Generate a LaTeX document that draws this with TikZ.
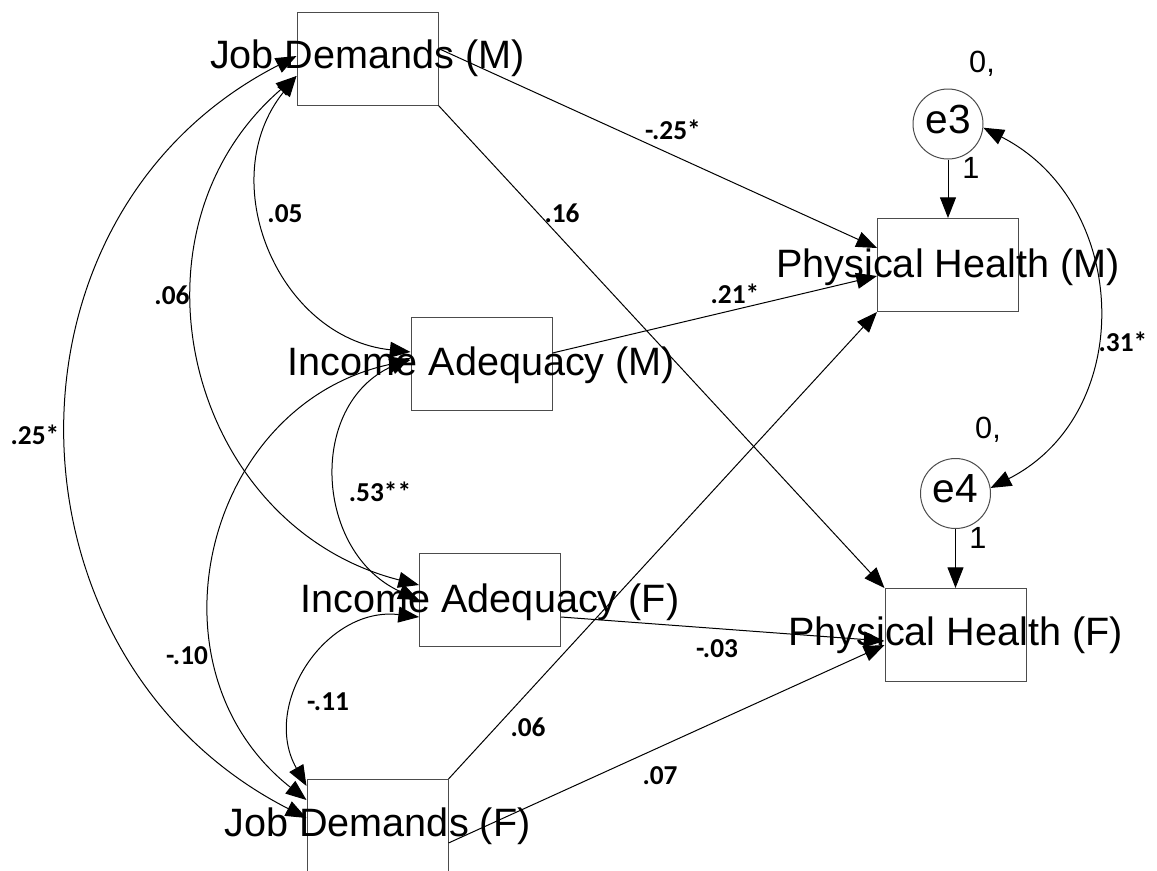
\documentclass[tikz,border=0pt]{standalone}
\usepackage{fontspec}
\setmainfont{Liberation Sans}
\newfontfamily\coeffamily{Carlito}
\usetikzlibrary{arrows.meta,calc}
\newcommand\varfontsz{\fontsize{29.7pt}{34pt}\selectfont}
\newcommand\errfontsz{\fontsize{30.5pt}{34pt}\selectfont}
\newcommand\coefsz{\coeffamily\bfseries\fontsize{20.5pt}{24pt}\selectfont}
\newcommand\minorsz{\fontsize{23pt}{27pt}\selectfont}
\tikzset{
  var/.style={draw=black!70, line width=0.75pt, minimum width=105.75pt,
    minimum height=69.75pt, inner sep=0pt},
  err/.style={circle, draw=black!70, line width=0.75pt, minimum size=52.5pt,
    inner sep=0pt, font=\errfontsz, text height=14pt, text depth=0pt},
  vlabel/.style={font=\varfontsz, anchor=base, inner sep=0pt},
  coef/.style={font=\coefsz, inner sep=0pt},
  minor/.style={font=\minorsz, inner sep=0pt},
  regr/.style={-{Triangle[length=15.5pt,width=12pt]}, line width=0.75pt},
  covar/.style={{Triangle[length=15.5pt,width=12pt]}-{Triangle[length=15.5pt,width=12pt]},
    line width=0.75pt},
}
\begin{document}
\begin{tikzpicture}[x=0.75pt,y=-0.75pt]
\useasboundingbox[fill=white] (0,0) rectangle (1157,871);

% observed variables
\node[var] (JDM) at (367.5,58.5) {};
\node[var] (IAM) at (481.5,364) {};
\node[var] (IAF) at (490,600) {};
\node[var] (JDF) at (377.5,826) {};
\node[var] (PHM) at (948,265) {};
\node[var] (PHF) at (955.5,635) {};

% error terms
\node[err] (e3) at (948,124) {e3};
\node[err] (e4) at (955.5,493.5) {e4};
\node[minor] (e3m) at (982,64) {0,};
\node[minor] (e4m) at (988,430) {0,};

% ports for the covariance arcs
\coordinate (jdm-a) at ($(JDM.west)+(0,-2.5)$);
\coordinate (jdm-b) at ($(JDM.west)+(0,17.5)$);
\coordinate (iam-a) at ($(IAM.west)+(0,-12)$);
\coordinate (iam-b) at ($(IAM.west)+(0,-6)$);
\coordinate (iam-c) at ($(IAM.west)+(0,-4)$);
\coordinate (iaf-a) at ($(IAF.west)+(0,-15)$);
\coordinate (iaf-b) at ($(IAF.west)+(0,0)$);
\coordinate (iaf-c) at ($(IAF.west)+(0,17)$);
\coordinate (jdf-a) at ($(JDF.west)+(0,-40)$);
\coordinate (jdf-b) at ($(JDF.west)+(0,-26)$);
\coordinate (jdf-c) at ($(JDF.west)+(0,-8)$);

% regression paths
\draw[regr] ($(JDM.east)+(0,-10)$) -- ($(PHM.west)+(0,-17)$);
\draw[regr] (JDM.south east) -- (PHF.north west);
\draw[regr] ($(IAM.east)+(0,-11)$) -- ($(PHM.west)+(0,11)$);
\draw[regr] ($(IAF.east)+(0,17)$) -- ($(PHF.west)+(0,6)$);
\draw[regr] (JDF.north east) -- (PHM.south west);
\draw[regr] ($(JDF.east)+(0,17)$) -- ($(PHF.west)+(0,10)$);
\draw[regr] (e3.south) -- (PHM.north);
\draw[regr] (e4.south) -- (PHF.north);

% covariances
\draw[covar] (jdm-a) .. controls ($(jdm-a)+(-311,159)$) and ($(jdf-c)+(-311,-159)$) .. (jdf-c);
\draw[covar] (jdm-b) .. controls ($(jdm-b)+(-181,156)$) and ($(iaf-a)+(-232,-59)$) .. (iaf-a);
\draw[covar] (jdm-b) .. controls ($(jdm-b)+(-84,104)$) and ($(iam-a)+(-133,-14.5)$) .. (iam-a);
\draw[covar] (iam-b) .. controls ($(iam-b)+(-104,47)$) and ($(iaf-b)+(-104,-47)$) .. (iaf-b);
\draw[covar] (iam-c) .. controls ($(iam-c)+(-207,44)$) and ($(jdf-b)+(-166,-131)$) .. (jdf-b);
\draw[covar] (iaf-c) .. controls ($(iaf-c)+(-93,-11)$) and ($(jdf-a)+(-46,-81)$) .. (jdf-a);
\draw[covar] (e3.-6) .. controls ($(e3.-6)+(147,75)$) and ($(e4.9)+(147,-75)$) .. (e4.9);

% variable names
\node[vlabel] (tJDM) at ($(JDM.center)+(0,10)$) {Job Demands (M)};
\node[vlabel] (tIAM) at ($(IAM.center)+(0,11)$) {Income Adequacy (M)};
\node[vlabel] (tIAF) at ($(IAF.center)+(0,12)$) {Income Adequacy (F)};
\node[vlabel] (tJDF) at ($(JDF.center)+(0,10)$) {Job Demands (F)};
\node[vlabel] (tPHM) at ($(PHM.center)+(0,12)$) {Physical Health (M)};
\node[vlabel] (tPHF) at ($(PHF.center)+(0,10)$) {Physical Health (F)};

% fixed loadings
\node[minor] (l3) at (971,168) {1};
\node[minor] (l4) at (978,538) {1};

% estimates
\node[coef] (c1) at (673,130) {-.25*};
\node[coef] (c2) at (562,213) {.16};
\node[coef] (c3) at (735,294) {.21*};
\node[coef] (c4) at (717,649) {-.03};
\node[coef] (c5) at (528,727) {.06};
\node[coef] (c6) at (660,776) {.07};
\node[coef] (c7) at (285,214) {.05};
\node[coef] (c8) at (172,295) {.06};
\node[coef] (c9) at (35,435) {.25*};
\node[coef] (c10) at (380,492) {.53**};
\node[coef] (c11) at (187,656) {-.10};
\node[coef] (c12) at (328,702) {-.11};
\node[coef] (c13) at (1123,342) {.31*};
\end{tikzpicture}
\end{document}
